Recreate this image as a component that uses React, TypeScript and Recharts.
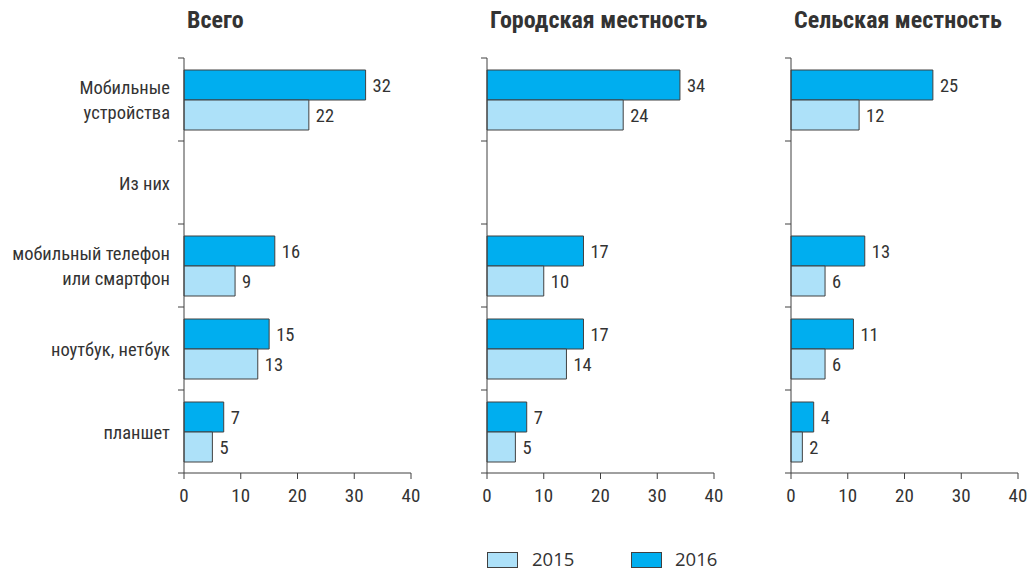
import React from 'react';
import { BarChart, Bar, XAxis, YAxis, LabelList } from 'recharts';

const categories = ['Мобильные\nустройства', 'Из них', 'мобильный телефон\nили смартфон', 'ноутбук, нетбук', 'планшет'];
const panelTitles = ['Всего', 'Городская местность', 'Сельская местность'];
const seriesNames = ['2015', '2016'];
const xTicks = [0, 10, 20, 30, 40];

const total2015 = [22, null, 9, 13, 5];
const total2016 = [32, null, 16, 15, 7];
const urban2015 = [24, null, 10, 14, 5];
const urban2016 = [34, null, 17, 17, 7];
const rural2015 = [12, null, 6, 6, 2];
const rural2016 = [25, null, 13, 11, 4];

const build = (a: (number | null)[], b: (number | null)[]) =>
  categories.map((c, i) => ({ cat: c, y2015: a[i], y2016: b[i] }));

const panels = [
  { title: panelTitles[0], data: build(total2015, total2016), left: 0, width: 440, yw: 184, right: 29, labels: true },
  { title: panelTitles[1], data: build(urban2015, urban2016), left: 440, width: 300, yw: 47, right: 26, labels: false },
  { title: panelTitles[2], data: build(rural2015, rural2016), left: 740, width: 291, yw: 51, right: 13, labels: false },
];

const FONT = '"Roboto Condensed", "Liberation Sans Narrow", "DejaVu Sans Condensed", sans-serif';
const LEGEND_FONT = '"Open Sans", "Noto Sans", sans-serif';
const TEXT = '#333333';
const AXIS = '#404040';
const C2015 = '#ADE1F9';
const C2016 = '#00AEEF';
const BAND = 83;
const FS = 18.5;

function YTick(props: any) {
  const { x, y, payload, index, showLabel } = props;
  const ax = x + 14;
  const lines = showLabel ? String(payload.value).split('\n') : [];
  const last = index === categories.length - 1;
  return (
    <g>
      <line x1={ax - 6} x2={ax} y1={y - BAND / 2} y2={y - BAND / 2} stroke={AXIS} strokeWidth={1} />
      {last && <line x1={ax - 6} x2={ax} y1={y + BAND / 2} y2={y + BAND / 2} stroke={AXIS} strokeWidth={1} />}
      {lines.map((l, i) => (
        <text key={i} x={x} y={y + (i - (lines.length - 1) / 2) * 25 + 1} dy="0.35em" textAnchor="end"
          fill={TEXT} fontSize={FS} fontFamily={FONT}>{l}</text>
      ))}
    </g>
  );
}

export default function App() {
  return (
    <div style={{ position: 'absolute', left: 0, top: 0, width: 1031, height: 570, background: '#fff', fontFamily: FONT }}>
      {panels.map((p, pi) => (
        <div key={pi} style={{ position: 'absolute', left: p.left, top: 0 }}>
          <BarChart width={p.width} height={570} data={p.data} layout="vertical"
            margin={{ top: 58, right: p.right, bottom: 67, left: 0 }} barGap={0}>
            <XAxis type="number" domain={[0, 40]} ticks={xTicks} interval={0} height={30}
              axisLine={{ stroke: AXIS }} tickLine={{ stroke: AXIS }} tickSize={6} tickMargin={10}
              tick={{ fill: TEXT, fontSize: 19, fontFamily: FONT }} />
            <YAxis type="category" dataKey="cat" width={p.yw} axisLine={{ stroke: AXIS }}
              tickLine={false} tickSize={6} tickMargin={8} interval={0}
              tick={(tp: any) => <YTick {...tp} showLabel={p.labels} />} />
            <Bar dataKey="y2016" fill={C2016} stroke={AXIS} strokeWidth={1} barSize={30} isAnimationActive={false}>
              <LabelList dataKey="y2016" position="right" offset={7} fill={TEXT} fontSize={FS} fontFamily={FONT} />
            </Bar>
            <Bar dataKey="y2015" fill={C2015} stroke={AXIS} strokeWidth={1} barSize={30} isAnimationActive={false}>
              <LabelList dataKey="y2015" position="right" offset={7} fill={TEXT} fontSize={FS} fontFamily={FONT} />
            </Bar>
          </BarChart>
        </div>
      ))}
      <svg width={1031} height={570} style={{ position: 'absolute', left: 0, top: 0, pointerEvents: 'none' }}>
        {panels.map((p, pi) => (
          <text key={pi} x={p.left + p.yw + 3} y={28} fill={TEXT} fontSize={24} fontWeight="bold" fontFamily={FONT}>{p.title}</text>
        ))}
        <rect x={487.5} y={552.5} width={30} height={15} fill={C2015} stroke={AXIS} />
        <text x={532} y={566} fill={TEXT} fontSize={18.5} fontFamily={LEGEND_FONT}>{seriesNames[0]}</text>
        <rect x={631.5} y={552.5} width={30} height={15} fill={C2016} stroke={AXIS} />
        <text x={675} y={566} fill={TEXT} fontSize={18.5} fontFamily={LEGEND_FONT}>{seriesNames[1]}</text>
      </svg>
    </div>
  );
}
